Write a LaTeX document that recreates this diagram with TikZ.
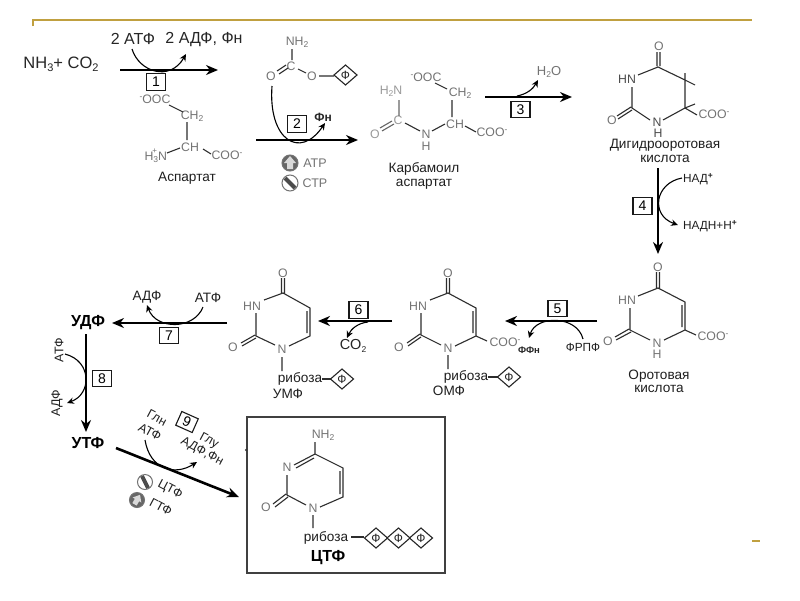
\documentclass[tikz,border=0pt]{standalone}
\usepackage{fontspec}
\setmainfont{Liberation Sans}
\usetikzlibrary{arrows.meta}
\newcommand{\lowr}[1]{\raisebox{-0.3ex}{\fontsize{11}{11}\selectfont #1}}
\newcommand{\lowt}[1]{\raisebox{-0.35ex}{\fontsize{8.5}{8.5}\selectfont #1}}
\newcommand{\upt}[1]{\raisebox{0.6ex}{\fontsize{8.5}{8.5}\selectfont #1}}
\newcommand{\fsz}[1]{\fontsize{#1}{#1}\selectfont}
\tikzset{
  x=1pt,y=-1pt,
  atom/.style={inner sep=0,text=black!55,font=\fsz{12.3}},
  latom/.style={inner sep=0,text=black!40,font=\fsz{12.3}},
  lab/.style={inner sep=0,text=black!88,font=\fsz{13.6}},
  rotlab/.style={inner sep=0,text=black!88,font=\fsz{12.5}},
  sm/.style={inner sep=0,text=black!88,font=\fsz{11.8}},
  bld/.style={inner sep=0,text=black,font=\fsz{16}\bfseries},
  bond/.style={draw=black!82,line width=1.1pt},
  lbond/.style={draw=black!60,line width=1.1pt},
  mainarr/.style={draw=black,line width=2.6pt,-{Stealth[length=12pt,width=10pt]}},
  subarr/.style={draw=black,line width=1.1pt,-{Stealth[length=7pt,width=6.5pt]}},
  numbox/.style={draw=black!90,line width=1.1pt,minimum width=19pt,minimum height=16.5pt,inner sep=0,font=\fsz{14},fill=white},
}
\newcommand{\phosph}[3]{% name, x, y
  \draw[line width=1.1pt,draw=black!85] (#2-11.5,#3) -- (#2,#3-10) -- (#2+11.5,#3) -- (#2,#3+10) -- cycle;
  \node[inner sep=0,font=\fsz{12},text=black!85] (#1) at (#2,#3) {Ф};}
\begin{document}
\begin{tikzpicture}
\useasboundingbox (0,0) rectangle (800,600);
\fill[white] (0,0) rectangle (800,600);
% gold rule
\coordinate (g1) at (33,26); \coordinate (g2) at (33,20); \coordinate (g3) at (752,20);
\coordinate (g4) at (752,541); \coordinate (g5) at (760,541);
\draw[line width=1.8pt,draw={rgb,255:red,192;green,160;blue,64}] (g1) -- (g2) -- (g3);
\draw[line width=1.8pt,draw={rgb,255:red,192;green,160;blue,64}] (g4) -- (g5);

% step 1
\node[inner sep=0,font=\fsz{16.5},text=black!85] (nh3) at (61,64) {NH\lowr{3}+ CO\lowr{2}};
\node[inner sep=0,font=\fsz{16},text=black!85] (atp1) at (133,39) {2 АТФ};
\node[inner sep=0,font=\fsz{16},text=black!85] (adp1) at (204,40) {2 АДФ, Фн};
\coordinate (a1s) at (120,70); \coordinate (a1e) at (218,70);
\coordinate (c1s) at (132,49); \coordinate (c1e) at (186,54);
\draw[mainarr] (a1s) -- (a1e);
\draw[subarr] (c1s) .. controls (139,72) and (170,82) .. (c1e);
\node[numbox] (b1) at (156,82) {1};

% aspartate
\node[atom] (aooc) at (155,99) {\upt{-}OOC};
\node[atom] (ach2) at (192,116) {CH\lowt{2}};
\node[atom] (ach) at (190,147) {CH};
\node[atom] (acoo) at (227,155) {COO\upt{-}};
\node[atom] (ah3n) at (153,156) {H\lowt{3}N\raisebox{1.1ex}{\kern-1.2em\fsz{8}+\kern.55em}};
\draw[bond] (169,105) -- (183,112) (187,122) -- (187,140) (167,153) -- (180,148) (203,149) -- (211,154);
\node[lab] (aspl) at (187,178) {Аспартат};

% carbamoyl phosphate
\node[atom] (cpnh2) at (297,42) {NH\lowt{2}};
\node[atom] (cpc) at (291,66) {C};
\node[atom] (cpo1) at (271,76) {O};
\node[atom] (cpo2) at (312,76) {O};
\draw[bond] (292,49) -- (292,60) (277,71) -- (286,65) (279,74) -- (288,68) (298,69) -- (306,73) (319,76) -- (334,76);
\phosph{cpp}{345.5}{75}
\coordinate (c2s) at (272,86); \coordinate (c2e) at (325,123);
\coordinate (a2s) at (256,140); \coordinate (a2e) at (358,140);
\draw[mainarr] (a2s) -- (a2e);
\draw[subarr] (c2s) .. controls (268,140) and (300,160) .. (c2e);
\node[numbox] (b2) at (297,124) {2};
\node[inner sep=0,font=\fsz{12}\bfseries,text=black!85] (pi2) at (323,117) {Фн};

% effector icons 2
\node[circle,draw=black!55,fill=black!60,line width=1pt,minimum size=16pt,inner sep=0] (eatp) at (290,163) {};
\fill[white!85!black] (290,156) -- (296,163) -- (293,163) -- (293,169) -- (287,169) -- (287,163) -- (284,163) -- cycle;
\node[atom,font=\fsz{12.5}] (tatp) at (315,163) {АТР};
\node[circle,draw=black!55,fill=white,line width=1pt,minimum size=16pt,inner sep=0] (ectp) at (290,183) {};
\draw[line width=4pt,draw=black!70] (285,178) -- (295,188);
\node[atom,font=\fsz{12.5}] (tctp) at (315,183) {СТР};

% carbamoyl aspartate
\node[latom] (bh2n) at (391,91) {H\lowt{2}N};
\node[latom] (bc) at (398,120) {C};
\node[latom] (bo) at (375,134) {O};
\node[atom] (bn) at (426,134) {N};
\node[atom] (bh) at (426,146) {H};
\node[atom] (bch) at (455,124) {CH};
\node[atom] (bch2) at (460,93) {CH\lowt{2}};
\node[atom] (booc) at (426,77) {\upt{-}OOC};
\node[atom] (bcoo) at (492,132) {COO\upt{-}};
\draw[lbond] (399,100) -- (399,116) (380,128) -- (392,121) (382,131) -- (394,124);
\draw[bond] (405,123) -- (420,131) (432,131) -- (445,124) (435,83) -- (447,89) (452,100) -- (452,117) (465,126) -- (476,132);
\node[lab] (bl1) at (424,169) {Карбамоил};
\node[lab] (bl2) at (424,184) {аспартат};

% step 3
\coordinate (a3s) at (485,97); \coordinate (a3e) at (572,97);
\coordinate (c3s) at (517,96); \coordinate (c3e) at (538,80);
\draw[mainarr] (a3s) -- (a3e);
\draw[subarr] (c3s) .. controls (527,94) and (533,89) .. (c3e);
\node[atom,font=\fsz{13}] (h2o) at (549,72) {H\lowt{2}O};
\node[numbox] (b3) at (520.5,109.5) {3};

% dihydroorotate
\node[atom] (do) at (659,46) {O};
\node[atom,text=black!70] (dhn) at (627,79) {HN};
\node[atom,text=black!70] (dn) at (657,122) {N};
\node[atom,text=black!70] (dh) at (658,133) {H};
\node[atom] (do2) at (612,120) {O};
\node[atom] (dcoo) at (714,114) {COO\upt{-}};
\draw[bond] (657,52) -- (657,66) (660,52) -- (660,66) (638,75) -- (658,67) -- (685,80) -- (685,108) -- (663,120) (650,120) -- (632,108) -- (632,87)
  (685,73) -- (685,80) -- (695,85) (685,108) -- (695,104) (685,108) -- (697,115)
  (617,116) -- (631,107) (618,119) -- (632,110);
\node[lab] (dl1) at (665,145) {Дигидрооротовая};
\node[lab] (dl2) at (665,159) {кислота};

% step 4
\coordinate (a4s) at (658,168); \coordinate (a4e) at (658,254);
\coordinate (c4s) at (682,178); \coordinate (c4e) at (678,225);
\draw[mainarr] (a4s) -- (a4e);
\draw[subarr] (c4s) .. controls (655,183) and (650,215) .. (c4e);
\node[sm] (nad) at (698,179) {НАД\upt{\textbf{+}}};
\node[sm] (nadh) at (710,226) {НАДН+Н\upt{\textbf{+}}};
\node[numbox] (b4) at (642.5,206) {4};

% orotate
\node[atom] (oo) at (658,267) {O};
\node[atom] (ohn) at (627,300) {HN};
\node[atom] (on) at (657,343) {N};
\node[atom] (oh) at (657,354) {H};
\node[atom] (oo2) at (608,341) {O};
\node[atom] (ocoo) at (713,336) {COO\upt{-}};
\draw[bond] (656.5,272) -- (656.5,288) (659.5,272) -- (659.5,288) (638,296) -- (658,288) -- (685,302) -- (685,330) -- (664,340) (650,340) -- (630,330) -- (630,308)
  (682,305) -- (682,327) (685,330) -- (696,335) (615,337) -- (629,329) (616,340) -- (631,332);
\node[lab] (ol1) at (659,376) {Оротовая};
\node[lab] (ol2) at (659,389) {кислота};

% step 5
\coordinate (a5s) at (597,321); \coordinate (a5e) at (505,321);
\coordinate (c5s) at (583,339); \coordinate (c5e) at (529,338);
\draw[mainarr] (a5s) -- (a5e);
\draw[subarr] (c5s) .. controls (577,315) and (536,315) .. (c5e);
\node[sm] (frpf) at (583,347) {ФРПФ};
\node[inner sep=0,font=\fsz{9.5}\bfseries,text=black!85] (ffn) at (529,350) {ФФн};
\node[numbox] (b5) at (557.5,308.5) {5};

% OMP
\node[atom] (mo) at (448,273) {O};
\node[atom] (mhn) at (418,306) {HN};
\node[atom] (mn) at (448,348) {N};
\node[atom] (mo2) at (399,347) {O};
\node[atom] (mcoo) at (505,342) {COO\upt{-}};
\draw[bond] (446.5,278) -- (446.5,293) (449.5,278) -- (449.5,293) (430,300) -- (448,293) -- (476,308) -- (476,336) -- (455,346) (441,345) -- (421,335) -- (421,313)
  (473,311) -- (473,333) (476,336) -- (487,341) (407,343) -- (420,334) (408,346) -- (421,337) (448,355) -- (448,369);
\node[lab] (mr) at (466,377) {рибоза};
\draw[bond] (488,377) -- (498,377);
\phosph{mp}{509}{377}
\node[lab] (ml) at (449,391) {ОМФ};

% step 6
\coordinate (a6s) at (392,321); \coordinate (a6e) at (318,321);
\coordinate (c6s) at (368,322); \coordinate (c6e) at (347,338);
\draw[mainarr] (a6s) -- (a6e);
\draw[subarr] (c6s) .. controls (358,323) and (351,329) .. (c6e);
\node[inner sep=0,font=\fsz{14.5},text=black!85] (co2) at (353,346) {CO\lowt{2}};
\node[numbox] (b6) at (358.5,310) {6};

% UMP
\node[atom] (uo) at (283,273) {O};
\node[atom] (uhn) at (252,306) {HN};
\node[atom] (un) at (282,349) {N};
\node[atom] (uo2) at (233,347) {O};
\draw[bond] (281.5,278) -- (281.5,293) (284.5,278) -- (284.5,293) (264,300) -- (283,293) -- (310,308) -- (310,336) -- (289,346) (275,345) -- (256,336) -- (256,313)
  (307,311) -- (307,333) (241,343) -- (255,335) (242,346) -- (256,338) (282,357) -- (282,371);
\node[lab] (ur) at (300,379) {рибоза};
\draw[bond] (322,379) -- (331,379);
\phosph{up}{342}{379}
\node[lab] (ul) at (288,394) {УМФ};

% step 7
\node[bld] (udp) at (88,323) {УДФ};
\coordinate (a7s) at (227,323); \coordinate (a7e) at (112,323);
\coordinate (c7s) at (203,307); \coordinate (c7e) at (147,305);
\draw[mainarr] (a7s) -- (a7e);
\draw[subarr] (c7s) .. controls (194,330) and (156,330) .. (c7e);
\node[lab] (adp7) at (147,297) {АДФ};
\node[lab] (atp7) at (208,298) {АТФ};
\node[numbox] (b7) at (169,335.5) {7};

% step 8
\node[bld] (utp) at (88,443) {УТФ};
\coordinate (a8s) at (86,334); \coordinate (a8e) at (86,432);
\coordinate (c8s) at (65,354); \coordinate (c8e) at (67,403);
\draw[mainarr] (a8s) -- (a8e);
\draw[subarr] (c8s) .. controls (92,361) and (92,394) .. (c8e);
\node[rotlab,rotate=90] (atp8) at (59,350) {АТФ};
\node[rotlab,rotate=90] (adp8) at (57,403) {АДФ};
\node[numbox] (b8) at (102,378.5) {8};

% step 9
\coordinate (a9s) at (116,448); \coordinate (a9e) at (239,497);
\coordinate (c9s) at (145,440); \coordinate (c9e) at (197,462);
\draw[mainarr] (a9s) -- (a9e);
\draw[subarr] (c9s) .. controls (150,470) and (175,476) .. (c9e);
\node[rotlab,rotate=-28] (gln) at (157,418) {Глн};
\node[rotlab,rotate=-28] (atp9) at (150,432) {АТФ};
\node[numbox,rotate=-24,minimum width=18pt,minimum height=15pt] (b9) at (187,422) {9};
\node[rotlab,rotate=-28] (glu) at (209,441) {Глу};
\node[rotlab,rotate=-28] (adp9) at (202,452) {АДФ,Фн};
\node[circle,draw=black!55,fill=white,line width=1pt,minimum size=15pt,inner sep=0] (e9c) at (145,482) {};
\draw[line width=4pt,draw=black!70] (142,476) -- (148,488);
\node[rotlab,rotate=-28] (tctp9) at (170,490) {ЦТФ};
\node[circle,draw=black!55,fill=black!60,line width=1pt,minimum size=15pt,inner sep=0] (e9g) at (137,500) {};
\fill[white!85!black,rotate around={-30:(137,500)}] (137,494) -- (142,500) -- (139.5,500) -- (139.5,505) -- (134.5,505) -- (134.5,500) -- (132,500) -- cycle;
\node[rotlab,rotate=-28] (tgtp9) at (161,507) {ГТФ};

% CTP box
\coordinate (bx1) at (247,417); \coordinate (bx2) at (445,573);
\draw[draw=black!75,line width=1.3pt] (bx1) rectangle (bx2);
\fill[black!80] (246,450) circle (1.2pt);
\node[atom] (cnh2) at (323,435) {NH\lowt{2}};
\node[atom] (cn3) at (287,467) {N};
\node[atom] (cn1) at (313,508) {N};
\node[atom] (co) at (266,507) {O};
\draw[bond] (315,442) -- (315,454) -- (343,468) -- (343,497) -- (320,507) (306,505) -- (287,495) -- (287,475)
  (294,465) -- (315,454) (296,468) -- (314,458) (340,471) -- (340,494) (273,504) -- (286,494) (275,507) -- (288,497) (313,515) -- (313,528);
\node[lab] (cr) at (326,538) {рибоза};
\draw[bond] (351,537) -- (364,537);
\phosph{cp1}{376}{538}
\phosph{cp2}{398.5}{538}
\phosph{cp3}{421}{538}
\node[bld] (cl) at (328,558) {ЦТФ};
\end{tikzpicture}
\end{document}
